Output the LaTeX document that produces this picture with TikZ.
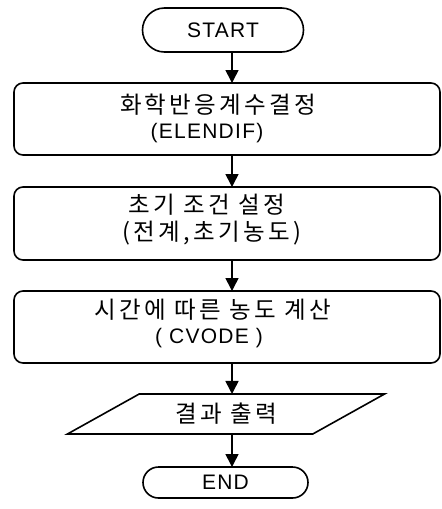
\documentclass[tikz,border=0pt]{standalone}
\usepackage{fontspec}
\setmainfont{Liberation Sans}[LetterSpace=6]
\newfontfamily\kr{Noto Sans CJK KR}[LetterSpace=14]
\usetikzlibrary{arrows.meta,shapes.geometric}
\begin{document}
\begin{tikzpicture}[x=1pt,y=-1pt,line width=1.6pt,
  lat/.style={font=\fontsize{21}{23}\selectfont},
  krt/.style={font=\kr\fontsize{23.5}{25}\selectfont},
  term/.style={draw,inner sep=0pt,outer sep=0pt,lat},
  proc/.style={draw,inner sep=0pt,outer sep=0pt,rounded corners=9pt,minimum width=426pt,minimum height=72pt},
  io/.style={draw,trapezium,trapezium left angle=27,trapezium right angle=153,trapezium stretches=true,inner sep=0pt,outer sep=0pt,minimum width=318pt,minimum height=40pt,krt},
  arr/.style={-{Triangle[length=13pt,width=13pt]},line width=1.6pt}]
\useasboundingbox (0,0) rectangle (442,509);
\node[term,minimum width=161pt,minimum height=44pt,rounded corners=22pt] (start) at (223,30) {START};
\node[proc] (b1) at (227,119) {};
\node[krt] (t1a) at (218,105) {화학반응계수결정};
\node[lat] (t1b) at (207,133) {(ELENDIF)};
\node[proc,minimum height=73pt] (b2) at (227,223.5) {};
\node[krt] (t2a) at (207,205) {초기 조건 설정};
\node[krt] (t2b) at (212,233) {(전계,초기농도)};
\node[proc] (b3) at (227,327) {};
\node[krt] (t3a) at (213,310) {시간에 따른 농도 계산};
\node[lat] (t3b) at (209,338) {( CVODE )};
\node[io] (out) at (226,414) {결과 출력};
\node[term,minimum width=165pt,minimum height=31pt,rounded corners=15.5pt] (end) at (225.5,482.5) {END};
\coordinate (ax) at (232,0);
\draw[arr] (start.south -| ax) -- (b1.north -| ax);
\draw[arr] (b1.south -| ax) -- (b2.north -| ax);
\draw[arr] (b2.south -| ax) -- (b3.north -| ax);
\draw[arr] (b3.south -| ax) -- (out.north -| ax);
\draw[arr] (out.south -| ax) -- (end.north -| ax);
\end{tikzpicture}
\end{document}
